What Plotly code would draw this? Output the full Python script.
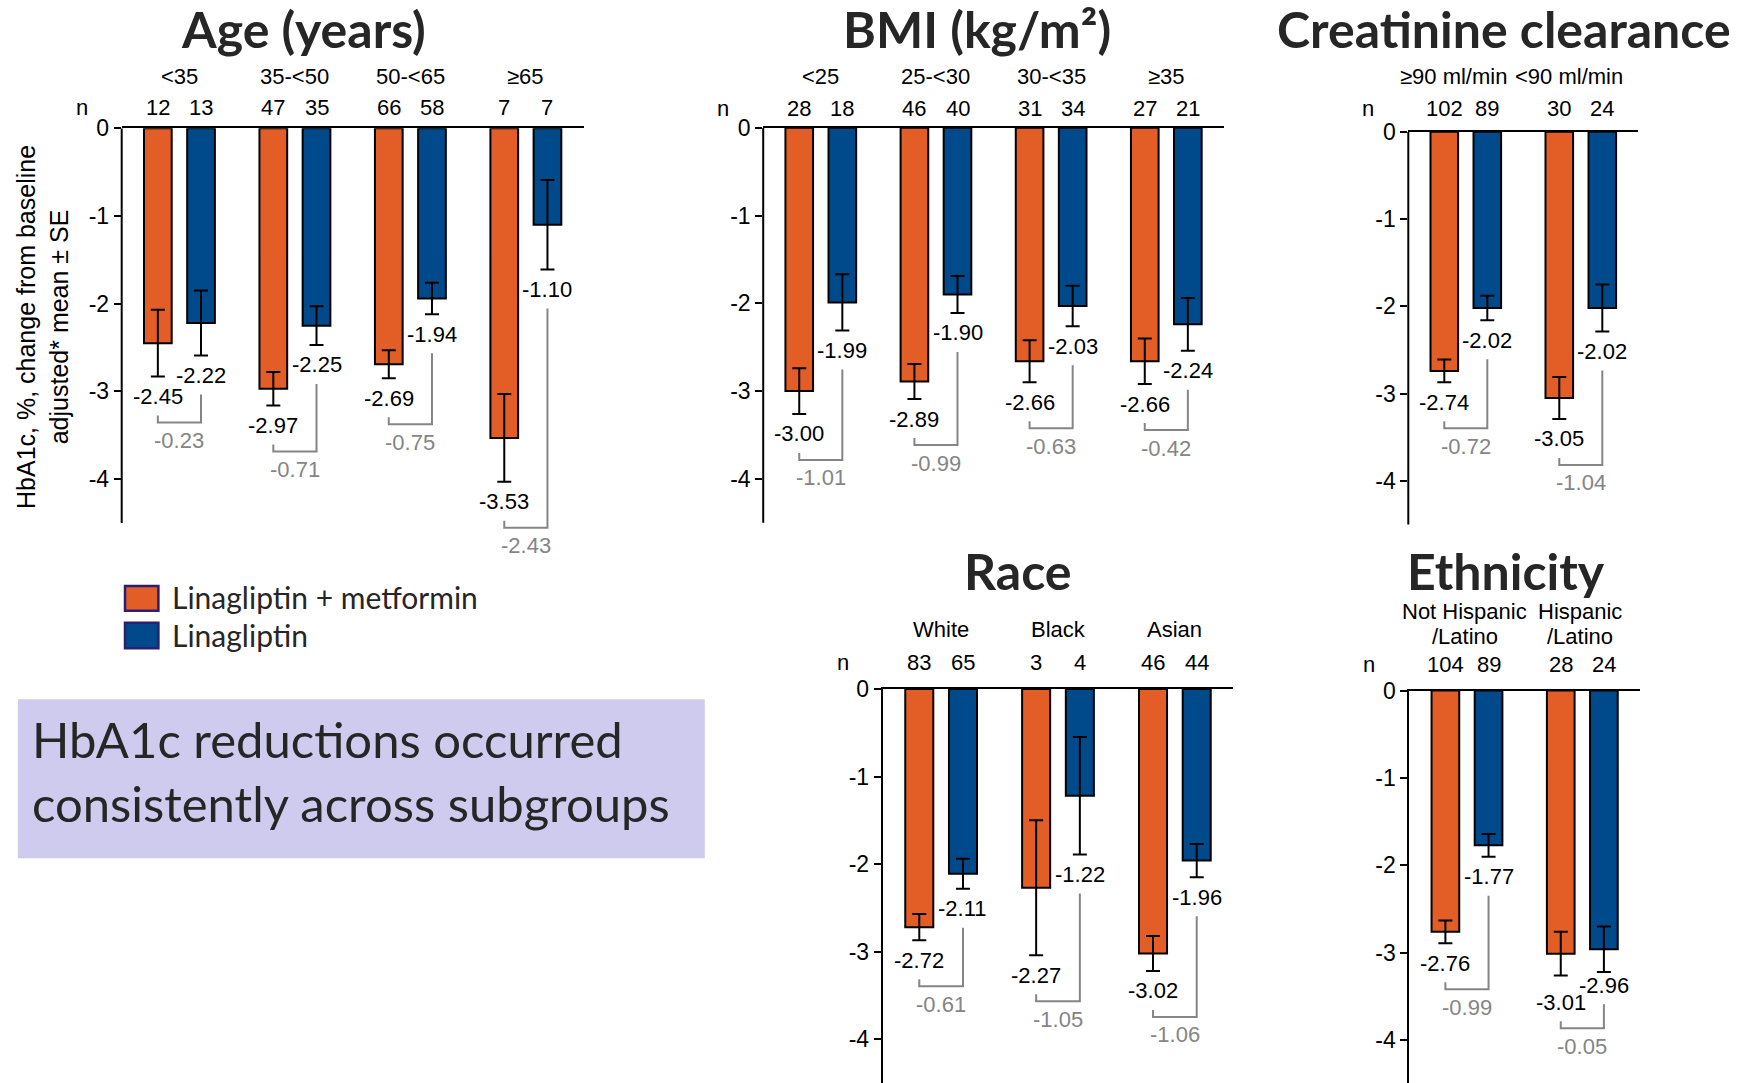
import plotly.graph_objects as go

W, H = 1742, 1083

# ---------------- data ----------------
age_groups = ["<35", "35-<50", "50-<65", "≥65"]
age_n_combo = [12, 47, 66, 7]
age_n_lina = [13, 35, 58, 7]
age_combo = [-2.45, -2.97, -2.69, -3.53]
age_lina = [-2.22, -2.25, -1.94, -1.10]
age_combo_se = [0.38, 0.19, 0.16, 0.50]
age_lina_se = [0.37, 0.22, 0.18, 0.51]
age_diff = [-0.23, -0.71, -0.75, -2.43]

bmi_groups = ["<25", "25-<30", "30-<35", "≥35"]
bmi_n_combo = [28, 46, 31, 27]
bmi_n_lina = [18, 40, 34, 21]
bmi_combo = [-3.00, -2.89, -2.66, -2.66]
bmi_lina = [-1.99, -1.90, -2.03, -2.24]
bmi_combo_se = [0.26, 0.20, 0.24, 0.26]
bmi_lina_se = [0.32, 0.21, 0.23, 0.30]
bmi_diff = [-1.01, -0.99, -0.63, -0.42]

crcl_groups = ["≥90 ml/min", "<90 ml/min"]
crcl_n_combo = [102, 30]
crcl_n_lina = [89, 24]
crcl_combo = [-2.74, -3.05]
crcl_lina = [-2.02, -2.02]
crcl_combo_se = [0.13, 0.24]
crcl_lina_se = [0.14, 0.27]
crcl_diff = [-0.72, -1.04]

race_groups = ["White", "Black", "Asian"]
race_n_combo = [83, 3, 46]
race_n_lina = [65, 4, 44]
race_combo = [-2.72, -2.27, -3.02]
race_lina = [-2.11, -1.22, -1.96]
race_combo_se = [0.15, 0.77, 0.20]
race_lina_se = [0.17, 0.67, 0.19]
race_diff = [-0.61, -1.05, -1.06]

eth_groups = ["Not Hispanic\n/Latino", "Hispanic\n/Latino"]
eth_n_combo = [104, 28]
eth_n_lina = [89, 24]
eth_combo = [-2.76, -3.01]
eth_lina = [-1.77, -2.96]
eth_combo_se = [0.13, 0.25]
eth_lina_se = [0.13, 0.26]
eth_diff = [-0.99, -0.05]

y_ticks = [0, -1, -2, -3, -4]
y_tick_text = ["0", "-1", "-2", "-3", "-4"]

series_names = ["Linagliptin + metformin", "Linagliptin"]

# ---------------- styling ----------------
ORANGE = "#E35D27"
BLUE = "#004A8C"
GREY = "#858585"
INK = "#262626"
NUM_FONT = "Liberation Sans, Arial, sans-serif"
HEAD_FONT = "Lato, Calibri, sans-serif"
NUM_SIZE = 22
TICK_SIZE = 23
BAR_OFFSET = 0.187
BAR_WIDTH = 0.24

# panel geometry in pixels: axis left/right, y of the zero line, px per unit
panels = [
    dict(title="Age (years)", tx=303, ty=29, groups=age_groups,
         n=(age_n_combo, age_n_lina), m=(age_combo, age_lina),
         se=(age_combo_se, age_lina_se), diff=age_diff,
         x0=121.7, x1=583.6, zero=128.3, unit=87.7, ymin=-4.58, axis_end=-4.5,
         cat_off=52, n_off=20.5, line_gap=24, cat_dx=0),
    dict(title="BMI (kg/m²)", tx=977.5, ty=29, groups=bmi_groups,
         n=(bmi_n_combo, bmi_n_lina), m=(bmi_combo, bmi_lina),
         se=(bmi_combo_se, bmi_lina_se), diff=bmi_diff,
         x0=763.2, x1=1223.9, zero=127.7, unit=87.8, ymin=-4.58, axis_end=-4.5,
         cat_off=51, n_off=19.5, line_gap=24, cat_dx=0),
    dict(title="Creatinine clearance", tx=1504, ty=29, groups=crcl_groups,
         n=(crcl_n_combo, crcl_n_lina), m=(crcl_combo, crcl_lina),
         se=(crcl_combo_se, crcl_lina_se), diff=crcl_diff,
         x0=1408.3, x1=1638.3, zero=131.7, unit=87.3, ymin=-4.54, axis_end=-4.5,
         cat_off=55.5, n_off=23.5, line_gap=24, cat_dx=-12),
    dict(title="Race", tx=1017.3, ty=570.8, groups=race_groups,
         n=(race_n_combo, race_n_lina), m=(race_combo, race_lina),
         se=(race_combo_se, race_lina_se), diff=race_diff,
         x0=882.7, x1=1233.3, zero=688.9, unit=87.6, ymin=None, axis_end=None,
         cat_off=59.6, n_off=26, line_gap=24, cat_dx=0),
    dict(title="Ethnicity", tx=1505.7, ty=570.8, groups=eth_groups,
         n=(eth_n_combo, eth_n_lina), m=(eth_combo, eth_lina),
         se=(eth_combo_se, eth_lina_se), diff=eth_diff,
         x0=1409.3, x1=1640, zero=690.6, unit=87.4, ymin=None, axis_end=None,
         cat_off=54.3, n_off=26.6, line_gap=24.6, cat_dx=-2),
]

fig = go.Figure()
annotations = []
shapes = []
layout_axes = {}


def px_x(px):
    return px / W


def px_y(px):
    return 1 - px / H


for k, p in enumerate(panels, start=1):
    sfx = "" if k == 1 else str(k)
    xa, ya = f"x{sfx}", f"y{sfx}"
    xn, yn = f"xaxis{sfx}", f"yaxis{sfx}"
    ng = len(p["groups"])
    ymin = p["ymin"] if p["ymin"] is not None else -(H - p["zero"]) / p["unit"]
    bottom_px = p["zero"] - ymin * p["unit"]

    def to_px(v, p=p):
        return p["zero"] - v * p["unit"]

    def to_data(px, p=p):
        return -(px - p["zero"]) / p["unit"]

    layout_axes[xn] = dict(
        domain=[px_x(p["x0"]), px_x(p["x1"])], range=[-0.5, ng - 0.5],
        anchor=ya, side="top", showline=True, linecolor="black", linewidth=2,
        ticks="", showticklabels=False, showgrid=False, zeroline=False,
        automargin=False, fixedrange=True)
    layout_axes[yn] = dict(
        domain=[max(0, px_y(bottom_px)), px_y(p["zero"])], range=[ymin, 0],
        anchor=xa, showline=p["axis_end"] is None, linecolor="black", linewidth=2,
        ticks="outside", ticklen=7, tickwidth=2, tickcolor="black",
        tickvals=y_ticks, ticktext=y_tick_text,
        tickfont=dict(family=NUM_FONT, size=TICK_SIZE, color="black"),
        showgrid=False, zeroline=False, automargin=False, fixedrange=True)

    # vertical axis line that stops at the end of the value scale
    if p["axis_end"] is not None:
        shapes.append(dict(type="line", xref=f"{xa} domain", yref=ya,
                           x0=0, x1=0, y0=0, y1=p["axis_end"],
                           line=dict(color="black", width=2)))

    xs = ([i - BAR_OFFSET for i in range(ng)], [i + BAR_OFFSET for i in range(ng)])
    colors = (ORANGE, BLUE)
    for s in range(2):
        fig.add_trace(go.Bar(
            x=xs[s], y=p["m"][s], width=BAR_WIDTH, name=series_names[s],
            marker=dict(color=colors[s], line=dict(color="black", width=2)),
            error_y=dict(type="data", array=p["se"][s], visible=True,
                         color="black", thickness=2, width=7),
            xaxis=xa, yaxis=ya, showlegend=False, hoverinfo="skip"))

    # panel heading
    annotations.append(dict(
        text=p["title"], xref="paper", yref="paper", x=px_x(p["tx"]),
        y=px_y(p["ty"]), xanchor="center", yanchor="middle", showarrow=False,
        font=dict(family=HEAD_FONT, size=50, color=INK, weight="bold")))

    # "n" row label
    annotations.append(dict(
        text="n", xref="paper", yref=ya, x=px_x(p["x0"] - 40), y=0,
        yshift=p["n_off"], xanchor="center", yanchor="middle",
        showarrow=False, font=dict(family=NUM_FONT, size=NUM_SIZE, color="black")))

    bx, by = [], []
    for i in range(ng):
        # category labels (possibly two lines)
        lines = p["groups"][i].split("\n")
        for j, line in enumerate(lines):
            annotations.append(dict(
                text=line, xref=xa, yref=ya, x=i, y=0, xshift=p["cat_dx"],
                yshift=p["cat_off"] + (len(lines) - 1 - j) * p["line_gap"],
                xanchor="center", yanchor="middle", showarrow=False,
                font=dict(family=NUM_FONT, size=NUM_SIZE, color="black")))
        # sample sizes
        for s in range(2):
            annotations.append(dict(
                text=str(p["n"][s][i]), xref=xa, yref=ya, x=xs[s][i], y=0,
                yshift=p["n_off"], xanchor="center", yanchor="middle",
                showarrow=False,
                font=dict(family=NUM_FONT, size=NUM_SIZE, color="black")))

        # value labels below the lower end of each error bar
        c = [to_px(p["m"][s][i] - p["se"][s][i]) + 20 for s in range(2)]
        if abs(c[0] - c[1]) < 17:
            mid = (c[0] + c[1]) / 2
            c = [mid + 8.5, mid - 8.5]
        for s in range(2):
            annotations.append(dict(
                text=f"{p['m'][s][i]:.2f}", xref=xa, yref=ya, x=xs[s][i],
                y=to_data(c[s]), xanchor="center", yanchor="middle",
                showarrow=False,
                font=dict(family=NUM_FONT, size=NUM_SIZE, color="black")))

        # bracket joining the two arms and the between-arm difference
        h_px = max(c) + 26
        bx += [xs[0][i], xs[0][i], xs[1][i], xs[1][i], None]
        by += [to_data(c[0] + 19), to_data(h_px), to_data(h_px),
               to_data(c[1] + 19), None]
        annotations.append(dict(
            text=f"{p['diff'][i]:.2f}", xref=xa, yref=ya, x=i,
            y=to_data(h_px), yshift=-18, xanchor="center", yanchor="middle",
            showarrow=False, font=dict(family=NUM_FONT, size=NUM_SIZE, color=GREY)))

    fig.add_trace(go.Scatter(
        x=bx, y=by, mode="lines", line=dict(color=GREY, width=2),
        xaxis=xa, yaxis=ya, showlegend=False, hoverinfo="skip"))

# y-axis title shared by all panels
annotations.append(dict(
    text="HbA1c, %, change from baseline<br>adjusted* mean ± SE",
    xref="paper", yref="paper", x=px_x(42), y=px_y(327), textangle=-90,
    xanchor="center", yanchor="middle", showarrow=False,
    font=dict(family=NUM_FONT, size=25, color="black")))

# legend
legend_rows = [(586, 610.7, ORANGE, 597), (622.7, 648.3, BLUE, 634.5)]
for (t, b, col, ty), name in zip(legend_rows, series_names):
    shapes.append(dict(type="rect", xref="paper", yref="paper",
                       x0=px_x(125), x1=px_x(158.4), y0=px_y(b), y1=px_y(t),
                       fillcolor=col, line=dict(color="#2B1F72", width=2.5)))
    annotations.append(dict(
        text=name, xref="paper", yref="paper", x=px_x(170), y=px_y(ty),
        xanchor="left", yanchor="middle", showarrow=False,
        font=dict(family=HEAD_FONT, size=30, color=INK)))

# key message box
shapes.append(dict(type="rect", xref="paper", yref="paper", layer="below",
                   x0=px_x(17.9), x1=px_x(704.8), y0=px_y(858.3), y1=px_y(699.3),
                   fillcolor="#CFCBEE", line=dict(width=0)))
annotations.append(dict(
    text="HbA1c reductions occurred<br>consistently across subgroups",
    xref="paper", yref="paper", x=px_x(30), y=px_y(771), xanchor="left",
    yanchor="middle", align="left", showarrow=False,
    font=dict(family=HEAD_FONT, size=49, color=INK)))

fig.update_layout(
    width=W, height=H, margin=dict(l=0, r=0, t=0, b=0, pad=0, autoexpand=False),
    paper_bgcolor="white", plot_bgcolor="white", barmode="overlay",
    showlegend=False, annotations=annotations, shapes=shapes, **layout_axes)

fig.write_html("out.html", config={"displayModeBar": False})
